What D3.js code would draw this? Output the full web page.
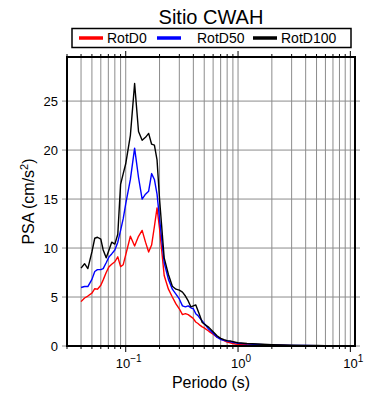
<!DOCTYPE html>
<html>
<head>
<meta charset="utf-8">
<script src="https://cdn.jsdelivr.net/npm/d3@7"></script>
<style>
  body { margin: 0; background: #fff; }
  svg { font-family: "Liberation Sans", Arial, sans-serif; }
</style>
</head>
<body>
<div id="chart"></div>
<script>
// response spectra, site CWAH
let periods = [0.040, 0.043, 0.046, 0.050, 0.053, 0.056, 0.060, 0.063, 0.067, 0.071,
    0.075, 0.080, 0.085, 0.090, 0.095, 0.10, 0.11, 0.12, 0.13, 0.14,
    0.15, 0.16, 0.17, 0.18, 0.19, 0.20, 0.22, 0.24, 0.26, 0.28,
    0.30, 0.32, 0.34, 0.36, 0.38, 0.40, 0.42, 0.44, 0.46, 0.48,
    0.50, 0.55, 0.60, 0.65, 0.70, 0.75, 0.80, 0.85, 0.90, 0.95,
    1.0, 1.2, 1.5, 2.0, 2.5, 3.0, 4.0, 5.0, 6.0, 7.0, 8.0, 9.0, 10]

let rotD0 = [4.53, 4.9, 5.1, 5.4, 5.85, 5.8, 6.2, 6.75, 7.5, 8.1,
    8.35, 8.6, 9.1, 8.1, 8.3, 9.3, 11.2, 10.2, 11.2, 11.8,
    10.6, 9.6, 10.3, 12.2, 14.1, 12.0, 7.2, 5.8, 5.0, 4.3,
    3.8, 3.2, 3.3, 3.2, 3.0, 2.8, 2.45, 2.3, 2.1, 1.95,
    1.85, 1.5, 1.2, 0.9, 0.75, 0.55, 0.4, 0.33, 0.26, 0.2,
    0.18, 0.13, 0.1, 0.07, 0.05, 0.04, 0.03, 0.025, 0.02, 0.018, 0.015, 0.013, 0.012]

let rotD50 = [5.97, 6.07, 6.07, 6.8, 7.6, 7.8, 7.8, 7.9, 8.5, 9.1,
    9.4, 9.8, 10.6, 11.8, 13.0, 14.5, 17.0, 20.2, 17.2, 15.0,
    15.5, 15.8, 17.6, 17.0, 15.5, 13.0, 8.5, 6.8, 5.8, 5.3,
    4.8, 4.1, 4.0, 4.1, 3.9, 3.8, 3.3, 3.1, 2.8, 2.55,
    2.3, 1.7, 1.3, 0.9, 0.66, 0.58, 0.5, 0.45, 0.38, 0.32,
    0.28, 0.22, 0.16, 0.11, 0.08, 0.065, 0.05, 0.04, 0.035, 0.03, 0.026, 0.023, 0.02]

let rotD100 = [7.95, 8.4, 7.9, 9.6, 11.0, 11.1, 10.9, 9.8, 9.0, 9.8,
    10.6, 10.4, 11.4, 16.5, 17.6, 18.6, 21.5, 26.8, 21.9, 21.0,
    21.3, 21.7, 20.6, 20.5, 19.0, 15.0, 9.0, 7.3, 6.1, 5.8,
    5.7, 5.5, 5.1, 4.6, 4.0, 4.1, 4.2, 3.6, 3.0, 2.4,
    2.25, 1.9, 1.45, 1.05, 0.78, 0.65, 0.55, 0.52, 0.45, 0.38,
    0.33, 0.26, 0.2, 0.13, 0.1, 0.08, 0.06, 0.05, 0.04, 0.035, 0.03, 0.028, 0.025]

let seriesNames = ['RotD0', 'RotD50', 'RotD100']
let seriesColors = ['#ff0000', '#0000ff', '#000000']
let yTicks = [0, 5, 10, 15, 20, 25]
let xMajor = [0.1, 1, 10]
let xMajorLabels = ['-1', '0', '1']

let width = 390, height = 400
let margin = {top: 57, right: 35, bottom: 54, left: 67}

let svg = d3.select('#chart').append('svg')
    .attr('width', width)
    .attr('height', height)

let x = d3.scaleLog().domain([0.03, 11]).range([margin.left, width - margin.right])
let y = d3.scaleLinear().domain([0, 29.5]).range([height - margin.bottom, margin.top])

let x0 = x.range()[0], x1 = x.range()[1]
let y0 = y.range()[0], y1 = y.range()[1]

// every minor position 1..9 per decade inside the domain
let xMinor = []
for (let e = -2; e <= 1; e++) {
    for (let m = 1; m <= 9; m++) {
        let v = m * Math.pow(10, e)
        if (v >= 0.03 && v <= 11) xMinor.push(v)
    }
}

// grid
let grid = svg.append('g').attr('stroke', '#8c8c8c').attr('stroke-width', 1)
grid.selectAll('.vgrid')
    .data(xMinor.filter(v => v > 0.03))
    .enter().append('line')
    .attr('x1', d => x(d)).attr('x2', d => x(d))
    .attr('y1', y1).attr('y2', y0)
grid.selectAll('.hgrid')
    .data(yTicks.filter(v => v > 0))
    .enter().append('line')
    .attr('x1', x0).attr('x2', x1)
    .attr('y1', d => y(d)).attr('y2', d => y(d))

// ticks outside the frame on all four sides
let ticks = svg.append('g').attr('stroke', '#000').attr('stroke-width', 1)
xMinor.forEach(v => {
    let len = xMajor.includes(v) ? 6 : 3
    ticks.append('line').attr('x1', x(v)).attr('x2', x(v)).attr('y1', y0).attr('y2', y0 + len)
    ticks.append('line').attr('x1', x(v)).attr('x2', x(v)).attr('y1', y1).attr('y2', y1 - len)
})
yTicks.forEach(v => {
    grid.append('line').attr('x1', x0 - 5).attr('x2', x0).attr('y1', y(v)).attr('y2', y(v))
    grid.append('line').attr('x1', x1).attr('x2', x1 + 5).attr('y1', y(v)).attr('y2', y(v))
})

// curves
let line = d3.line()
    .x(d => x(d[0]))
    .y(d => y(d[1]))

let allSeries = [rotD0, rotD50, rotD100]
allSeries.forEach((vals, i) => {
    svg.append('path')
        .datum(periods.map((p, j) => [p, vals[j]]))
        .attr('fill', 'none')
        .attr('stroke', seriesColors[i])
        .attr('stroke-width', 1.4)
        .attr('stroke-linejoin', 'round')
        .attr('d', line)
})

// frame
svg.append('rect')
    .attr('x', x0).attr('y', y1)
    .attr('width', x1 - x0).attr('height', y0 - y1)
    .attr('fill', 'none')
    .attr('stroke', '#000')
    .attr('stroke-width', 2)

// y labels
svg.selectAll('.ylab')
    .data(yTicks)
    .enter().append('text')
    .attr('x', x0 - 9)
    .attr('y', d => y(d) + 4.5)
    .attr('text-anchor', 'end')
    .style('font-size', '13px')
    .text(d => d)

// x labels as 10^n
xMajor.forEach((v, i) => {
    let t = svg.append('text')
        .attr('x', x(v) + 3)
        .attr('y', y0 + 22)
        .attr('text-anchor', 'middle')
        .style('font-size', '13px')
    t.append('tspan').text('10')
    t.append('tspan').attr('dy', -6).style('font-size', '10px')
        .text(xMajorLabels[i].replace('-', '\u2212'))
})

// axis titles
svg.append('text')
    .attr('x', (x0 + x1) / 2)
    .attr('y', 388)
    .attr('text-anchor', 'middle')
    .style('font-size', '16px')
    .text('Periodo (s)')

let yTitle = svg.append('text')
    .attr('transform', `translate(34,${(y0 + y1) / 2}) rotate(-90)`)
    .attr('text-anchor', 'middle')
    .style('font-size', '16px')
yTitle.append('tspan').text('PSA (cm/s')
yTitle.append('tspan').attr('dy', -6).style('font-size', '11px').text('2')
yTitle.append('tspan').attr('dy', 6).text(')')

// title
svg.append('text')
    .attr('x', (x0 + x1) / 2)
    .attr('y', 24)
    .attr('text-anchor', 'middle')
    .style('font-size', '20px')
    .text('Sitio CWAH')

// legend box
let legend = svg.append('g')
legend.append('rect')
    .attr('x', 72).attr('y', 28.5)
    .attr('width', 279).attr('height', 19)
    .attr('fill', '#fff')
    .attr('stroke', '#000')
    .attr('stroke-width', 1.5)
let legendX = [79, 157, 253]
seriesNames.forEach((name, i) => {
    legend.append('line')
        .attr('x1', legendX[i]).attr('x2', legendX[i] + 24)
        .attr('y1', 38).attr('y2', 38)
        .attr('stroke', seriesColors[i])
        .attr('stroke-width', 3.5)
    legend.append('text')
        .attr('x', i === 1 ? legendX[i] + 40 : legendX[i] + 28)
        .attr('y', 43)
        .style('font-size', '14px')
        .text(name)
})
</script>
</body>
</html>
